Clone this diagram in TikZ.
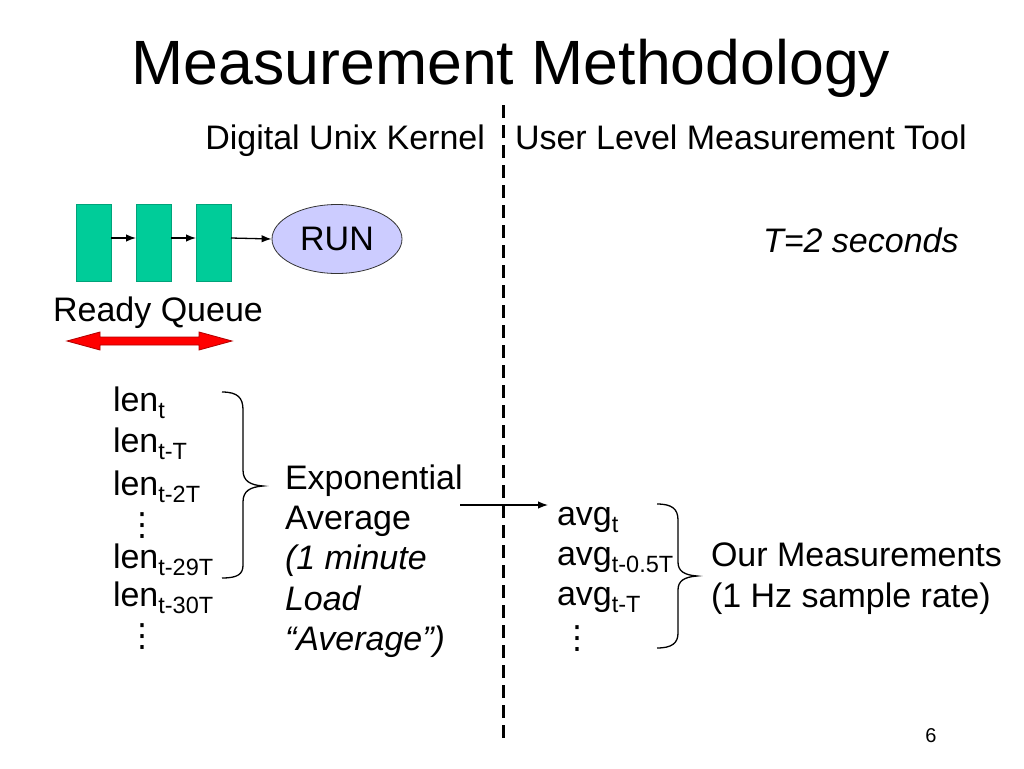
\documentclass[tikz,border=0pt]{standalone}
\usepackage{fontspec}
\setmainfont{Liberation Sans}
\newfontfamily\dejavu{DejaVu Sans}
\usetikzlibrary{arrows.meta,shapes.geometric}
\newcommand\fs[1]{\fontsize{#1}{#1}\selectfont}
\newcommand\sbs[1]{\raisebox{-7.5pt}{\fs{23.5}#1}}
\definecolor{qgreen}{HTML}{00CC99}
\definecolor{qdark}{HTML}{00A37A}
\definecolor{runfill}{HTML}{CCCCFF}
\definecolor{darkred}{HTML}{B00000}
\begin{document}
\begin{tikzpicture}[x=1pt,y=-1pt,
  txt/.style={inner sep=0,outer sep=0,anchor=base west,font=\fs{34}},
  itxt/.style={txt,font=\fs{34}\itshape},
  qbox/.style={draw=qdark,line width=0.8pt,fill=qgreen,minimum width=35pt,minimum height=77pt,inner sep=0,outer sep=0},
  arr/.style={line width=1.3pt,-{Latex[length=10pt,width=7.5pt]}},
  dotsn/.style={inner sep=0,outer sep=0,font=\dejavu\fs{32}},
  brace/.style={line width=1.3pt}]
\useasboundingbox (0,0) rectangle (1024,768);
% title
\node[anchor=base,inner sep=0,font=\fs{62.6}] (title) at (511,84) {Measurement Methodology};
\node[txt,anchor=base east] (kern) at (485,149) {Digital Unix Kernel};
\node[txt] (user) at (515,149) {User Level Measurement Tool};
% divider
\coordinate (d1) at (503,105);
\coordinate (d2) at (503,745);
\draw[line width=3pt,dash pattern=on 13pt off 7pt] (d1) -- (d2);
% ready queue
\node[qbox] (q1) at (93.5,242.5) {};
\node[qbox] (q2) at (153.5,242.5) {};
\node[qbox] (q3) at (213.5,242.5) {};
\node[ellipse,draw=black!80,line width=0.8pt,fill=runfill,minimum width=130pt,minimum height=69pt,inner sep=0,font=\fs{34}] (run) at (337,239) {RUN};
\draw[arr] ([yshift=4.5pt]q1.east) -- ([yshift=4.5pt]q2.west);
\draw[arr] ([yshift=4.5pt]q2.east) -- ([yshift=4.5pt]q3.west);
\draw[arr] ([yshift=4.5pt]q3.east) -- (run.west);
\node[txt,anchor=base] (rq) at (158,321) {Ready Queue};
\draw[fill=red,draw=darkred,line width=0.8pt] (67,341) -- (100,332) -- (100,337) -- (199,337) -- (199,332) -- (232,341) -- (199,350) -- (199,345) -- (100,345) -- (100,350) -- cycle;
% T
\node[itxt] (tsec) at (763,252) {T=2 seconds};
% len column
\node[txt] (l1) at (113,411) {len\sbs{t}};
\node[txt] (l2) at (113,452) {len\sbs{t-T}};
\node[txt] (l3) at (113,495) {len\sbs{t-2T}};
\node[dotsn] (ld1) at (142,526) {⋮};
\node[txt] (l4) at (113,568) {len\sbs{t-29T}};
\node[txt] (l5) at (113,606) {len\sbs{t-30T}};
\node[dotsn] (ld2) at (142,637) {⋮};
\draw[brace] (222,392) .. controls (238,392) and (243,398) .. (243,410) -- (243,470)
  .. controls (243,481) and (250,485) .. (263,486)
  .. controls (250,487) and (243,491) .. (243,502) -- (243,565)
  .. controls (243,574) and (238,578) .. (222,578);
% exponential average
\node[txt] (e1) at (285,489) {Exponential};
\node[txt] (e2) at (285,529) {Average};
\node[itxt] (e3) at (285,569) {(1 minute};
\node[itxt] (e4) at (285,610) {Load};
\node[itxt] (e5) at (285,650) {“Average”)};
\coordinate (a1) at (460,505);
\coordinate (a2) at (548,505);
\draw[arr] (a1) -- (a2);
% avg column
\node[txt] (v1) at (557,525) {avg\sbs{t}};
\node[txt] (v2) at (557,565) {avg\sbs{t-0.5T}};
\node[txt] (v3) at (557,605) {avg\sbs{t-T}};
\node[dotsn] (vd) at (577,639) {⋮};
\draw[brace] (657,504) .. controls (672,504) and (678,509) .. (678,520) -- (678,562)
  .. controls (678,571) and (684,575) .. (697,576)
  .. controls (684,577) and (678,581) .. (678,590) -- (678,633)
  .. controls (678,643) and (672,648) .. (657,648);
\node[txt] (m1) at (711,566) {Our Measurements};
\node[txt] (m2) at (711,607) {(1 Hz sample rate)};
\node[anchor=base,inner sep=0,font=\fs{20}] (pg) at (931,742) {6};
\end{tikzpicture}
\end{document}
